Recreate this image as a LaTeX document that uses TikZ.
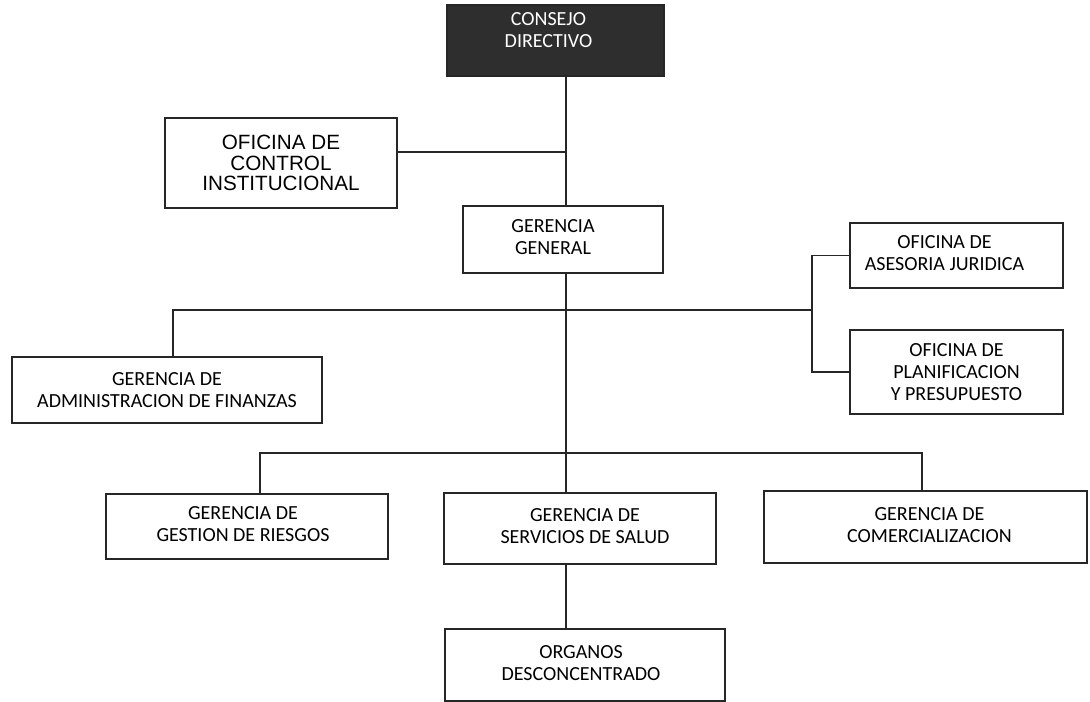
\documentclass[tikz,border=0pt]{standalone}
\usepackage{fontspec}
\setmainfont{Carlito}
\newfontfamily\arialf{Liberation Sans}
\newcommand{\padR}[2]{\begin{tabular}{@{}c@{\hspace{#1}}}#2\end{tabular}}
\newcommand{\padL}[2]{\begin{tabular}{@{\hspace{#1}}c@{}}#2\end{tabular}}
\begin{document}
\begin{tikzpicture}[x=0.75pt,y=-0.75pt,
  box/.style={draw=black!85, line width=1pt, rectangle, inner sep=0pt, align=center,
    font=\fontsize{15}{16.5}\selectfont},
  link/.style={draw=black!85, line width=1pt}]
\useasboundingbox (0,0) rectangle (1090,702);

\node[box, fill=black!82, text=white, minimum width=162.75pt, minimum height=53.25pt] (consejo) at (555.5,40.5) {\padR{10.5pt}{CONSEJO\\DIRECTIVO\\[13pt]}};
\node[box, font=\arialf\fontsize{15.5}{15.5}\selectfont, minimum width=174pt, minimum height=67.5pt] (control) at (281,163) {OFICINA DE\\CONTROL\\INSTITUCIONAL};
\node[box, minimum width=150pt, minimum height=50.25pt] (general) at (563,239.5) {\padR{15pt}{GERENCIA\\GENERAL}};
\node[box, minimum width=159.75pt, minimum height=48.75pt] (asesoria) at (956.5,255.5) {\padR{18pt}{OFICINA DE\\ASESORIA JURIDICA}};
\node[box, minimum width=159.75pt, minimum height=63pt] (planif) at (956.5,372) {OFICINA DE\\PLANIFICACION\\Y PRESUPUESTO};
\node[box, minimum width=232.5pt, minimum height=49.5pt] (admin) at (167,390) {GERENCIA DE\\ADMINISTRACION DE FINANZAS};
\node[box, minimum width=211.5pt, minimum height=48.75pt] (gestion) at (247,526.5) {\padR{6pt}{GERENCIA DE\\GESTION DE RIESGOS}};
\node[box, minimum width=204pt, minimum height=53.25pt] (servicios) at (580,528.5) {\padL{7.5pt}{GERENCIA DE\\SERVICIOS DE SALUD}};
\node[box, minimum width=242.25pt, minimum height=54pt] (comercial) at (925.5,527) {\padL{6pt}{GERENCIA DE\\COMERCIALIZACION}};
\node[box, minimum width=210pt, minimum height=54pt] (organos) at (585,665) {\padR{6pt}{ORGANOS\\DESCONCENTRADO}};

\coordinate (sp1) at (566,152);
\coordinate (sp2) at (566,310);
\coordinate (br) at (812,310);
\coordinate (al) at (173,310);
\coordinate (bl) at (260,453);
\coordinate (brr) at (922,453);

\draw[link] (consejo.south -| sp1) -- (general.north -| sp1);
\draw[link] (control.east |- sp1) -- (sp1);
\draw[link] (general.south -| sp1) -- (servicios.north -| sp1);
\draw[link] (sp2) -- (br);
\draw[link] (asesoria.west) -| (br) |- (planif.west);
\draw[link] (sp2) -- (al) -- (al |- admin.north);
\draw[link] (bl |- gestion.north) -- (bl) -- (brr) -- (brr |- comercial.north);
\draw[link] (servicios.south -| sp1) -- (organos.north -| sp1);
\end{tikzpicture}
\end{document}
